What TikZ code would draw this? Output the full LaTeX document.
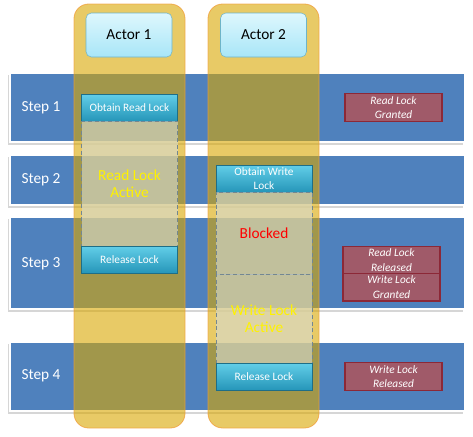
\documentclass[tikz,border=0pt]{standalone}
\usepackage{fontspec}
\setmainfont{Carlito}
\usetikzlibrary{positioning}

\definecolor{bandblue}{RGB}{79,129,189}
\definecolor{laneamber}{RGB}{217,167,0}
\definecolor{laneedge}{RGB}{240,160,60}
\definecolor{btntop}{RGB}{98,206,232}
\definecolor{btnbot}{RGB}{38,150,185}
\definecolor{btnedge}{RGB}{30,110,135}
\definecolor{headtop}{RGB}{222,247,253}
\definecolor{headbot}{RGB}{168,230,248}
\definecolor{headedge}{RGB}{110,180,200}
\definecolor{statfill}{RGB}{160,90,105}
\definecolor{statedge}{RGB}{140,40,55}
\definecolor{activefill}{RGB}{215,220,210}
\definecolor{activeedge}{RGB}{115,135,145}

\begin{document}
\begin{tikzpicture}[x=0.75pt,y=0.75pt,yscale=-1,
	bandshadow/.style={fill=black!16},
	band/.style={fill=bandblue, draw=white, line width=1pt},
	lane/.style={fill=laneamber, fill opacity=0.6, draw=laneedge, draw opacity=0.8, line width=0.6pt, rounded corners=11pt},
	header/.style={draw=headedge, top color=headtop, bottom color=headbot, rounded corners=4pt, minimum width=64.5pt, minimum height=33pt, font=\fontsize{11.5}{13}\selectfont},
	steplbl/.style={text=white, font=\fontsize{11.5}{13}\selectfont},
	btn/.style={draw=btnedge, top color=btntop, bottom color=btnbot, text=white, minimum width=72pt, minimum height=20.25pt, inner sep=1pt, outer sep=0pt, align=center, font=\fontsize{8.5}{10.5}\selectfont},
	active/.style={draw=activeedge, line width=0.75pt, dash pattern=on 3pt off 2pt, fill=activefill, fill opacity=0.6, text opacity=1, minimum width=72pt, outer sep=0pt, align=center, font=\fontsize{11.5}{13}\selectfont},
	status/.style={draw=statedge, line width=0.8pt, fill=statfill, text=white, minimum width=72.75pt, minimum height=20.5pt, inner sep=0.5pt, outer sep=0pt, align=center, font=\fontsize{8.5}{11}\selectfont\itshape}
	]
	\useasboundingbox (0,0) rectangle (473,436);
	
	% step bands
	\fill[bandshadow] (8,75) rectangle (463,145);
	\draw[band] (10,73) rectangle (465,142);
	\fill[bandshadow] (8,157) rectangle (463,208);
	\draw[band] (10,155) rectangle (465,205);
	\fill[bandshadow] (8,219) rectangle (463,312);
	\draw[band] (10,217) rectangle (465,309);
	\fill[bandshadow] (8,344) rectangle (463,414);
	\draw[band] (10,342) rectangle (465,411);
	
	\node[steplbl] (step1) at (41,107.5) {Step 1};
	\node[steplbl] (step2) at (41,180) {Step 2};
	\node[steplbl] (step3) at (41,264) {Step 3};
	\node[steplbl] (step4) at (41,376) {Step 4};
	
	% actor lanes
	\draw[lane] (74,4) rectangle (185,428);
	\draw[lane] (208,4) rectangle (319,428);
	
	\node[header] (actor1) at (129,35) {Actor 1};
	\node[header] (actor2) at (263.5,35) {Actor 2};
	
	% actor 1
	\node[btn] (obtainread) at (129.5,107.5) {Obtain Read Lock};
	\node[active, minimum height=93.75pt, text=yellow, below=0pt of obtainread] (readactive) {Read Lock\\Active};
	\node[btn, below=0pt of readactive] (release1) {Release Lock};
	
	% actor 2
	\node[btn] (obtainwrite) at (264,178.5) {Obtain Write\\Lock};
	\node[active, minimum height=61.5pt, text=red, below=0pt of obtainwrite] (blocked) {Blocked};
	\node[active, minimum height=66.75pt, text=yellow, below=0pt of blocked] (writeactive) {Write Lock\\Active};
	\node[btn, below=0pt of writeactive] (release2) {Release Lock};
	
	% lock state
	\node[status] (rgranted) at (393.5,107.5) {Read Lock\\Granted};
	\node[status] (rreleased) at (391.5,260) {Read Lock\\Released};
	\node[status, below=0pt of rreleased] (wgranted) {Write Lock\\Granted};
	\node[status] (wreleased) at (393.5,376.5) {Write Lock\\Released};
	
\end{tikzpicture}
\end{document}
